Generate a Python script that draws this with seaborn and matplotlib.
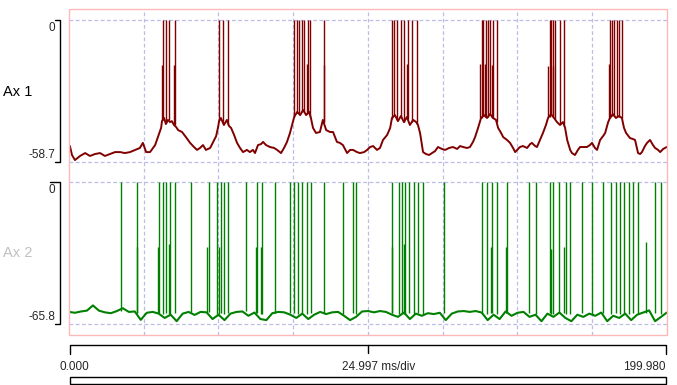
import numpy as np
import matplotlib
matplotlib.use("Agg")
import matplotlib.pyplot as plt
import matplotlib.transforms as mtransforms
from matplotlib.patches import Rectangle
import seaborn as sns

# sweep info
x_start = 0.0
x_end = 199.98
ms_per_div = 24.997

# Ax 1 (dark red), membrane trace, ms / mV
top_time = [0.3, 1.0, 2.0, 3.7, 5.4, 7.0, 8.7, 10.4, 12.0, 13.7, 15.4, 17.1, 18.7, 20.4, 22.1, 23.7,
            24.7, 25.8, 27.1, 28.1, 28.8, 29.4, 30.1, 30.8, 31.1, 31.8, 32.4, 33.1, 33.8, 34.4, 35.1,
            35.8, 36.5, 37.8, 39.1, 40.5, 41.8, 42.8, 43.8, 44.8, 45.8, 47.2, 48.2, 49.2, 49.8, 50.2,
            50.8, 51.8, 52.8, 53.5, 54.2, 55.2, 56.2, 57.2, 58.2, 59.5, 60.5, 61.5, 62.2, 63.2, 64.2,
            64.9, 65.9, 67.2, 68.6, 69.6, 70.9, 71.9, 72.9, 73.9, 74.6, 75.3, 76.3, 77.3, 78.3, 79.3,
            80.3, 80.9, 81.6, 82.6, 83.9, 84.9, 86.0, 87.3, 88.3, 89.6, 90.6, 91.6, 93.0, 94.0, 95.0,
            96.3, 97.3, 98.7, 99.7, 100.7, 101.7, 103.0, 104.0, 105.0, 106.4, 107.4, 108.0, 109.0,
            110.0, 111.0, 112.0, 113.0, 114.0, 115.1, 116.1, 116.7, 117.4, 118.4, 119.4, 120.4, 121.4,
            122.4, 123.4, 124.7, 125.8, 127.1, 128.4, 129.8, 130.8, 131.8, 133.1, 134.1, 135.1, 135.8,
            136.8, 137.8, 138.8, 139.8, 140.8, 141.8, 142.8, 143.5, 144.5, 145.2, 146.5, 147.5, 148.5,
            149.2, 150.2, 150.8, 151.8, 153.2, 154.2, 154.8, 155.9, 156.5, 157.5, 158.5, 159.5, 160.2,
            161.2, 162.2, 163.2, 164.2, 165.2, 165.9, 166.6, 167.6, 168.2, 169.2, 170.2, 170.9, 171.9,
            173.2, 174.2, 174.9, 175.9, 176.6, 177.6, 178.6, 179.3, 180.3, 180.9, 181.9, 182.9, 183.9,
            184.9, 185.6, 186.3, 187.6, 188.6, 189.3, 190.3, 191.0, 191.6, 192.6, 193.3, 194.3, 195.3,
            196.0, 197.0, 197.7, 198.7, 199.9]
top_mv = [-52.1, -55.8, -57.9, -56.2, -55.0, -56.2, -55.4, -55.0, -56.2, -55.4, -54.6, -54.6, -55.0,
          -54.6, -53.7, -52.9, -50.8, -54.6, -54.6, -52.9, -51.7, -49.6, -47.1, -44.6, -41.8, -40.5,
          -43.0, -41.3, -42.2, -41.8, -43.4, -44.2, -45.5, -46.3, -48.4, -50.8, -52.5, -53.7, -52.9,
          -51.7, -53.7, -52.9, -50.4, -48.0, -44.6, -41.8, -40.5, -43.4, -41.3, -43.8, -44.6, -47.5,
          -50.8, -52.9, -54.6, -53.7, -54.6, -53.7, -55.0, -51.7, -51.3, -50.4, -51.7, -52.5, -52.9,
          -53.7, -55.0, -52.9, -50.4, -46.7, -43.4, -40.1, -38.0, -39.3, -37.2, -39.3, -38.0, -40.5,
          -44.6, -46.7, -46.3, -41.3, -45.5, -46.3, -46.3, -50.4, -50.8, -51.7, -55.0, -53.7, -53.7,
          -54.6, -55.0, -54.6, -53.7, -52.5, -52.1, -53.7, -52.9, -49.6, -47.5, -44.6, -40.5, -39.3,
          -41.8, -39.7, -42.2, -40.1, -43.4, -41.3, -42.2, -43.4, -46.7, -54.6, -55.4, -55.8, -55.0,
          -54.2, -52.5, -53.3, -53.7, -52.9, -52.5, -53.3, -52.1, -52.5, -52.9, -52.5, -50.4, -48.4,
          -44.6, -40.5, -39.3, -40.5, -38.9, -40.5, -41.3, -44.6, -46.7, -48.4, -49.6, -50.8, -52.9,
          -54.6, -53.3, -52.5, -52.1, -52.9, -51.3, -50.8, -52.1, -52.5, -49.6, -46.7, -43.4, -40.5,
          -38.9, -40.5, -42.2, -43.4, -42.2, -44.6, -49.6, -53.7, -55.0, -55.8, -53.7, -52.5, -52.5,
          -52.5, -51.7, -50.8, -52.9, -53.7, -49.6, -48.0, -46.7, -42.2, -40.5, -38.9, -40.5, -39.7,
          -40.5, -44.6, -46.7, -48.8, -49.2, -49.6, -55.0, -55.4, -54.6, -52.1, -50.8, -49.6, -51.7,
          -52.9, -53.7, -54.6, -53.3, -52.5]

# Ax 1 action potentials (time, peak, foot)
top_spike_time = [31.3, 32.3, 33.5, 35.4, 50.3, 51.5, 53.3,
                  75.4, 76.2, 77.0, 77.8, 78.7, 80.0, 80.7, 85.4,
                  107.9, 108.8, 109.8, 110.9, 112.1, 113.5, 114.8, 116.5,
                  138.0, 138.6, 139.4, 140.0, 140.8, 141.9, 143.0,
                  160.7, 161.2, 161.8, 162.6, 164.2, 165.6,
                  180.9, 181.6, 182.4, 183.2, 184.0, 185.0,
                  31.1, 35.2, 79.7, 85.2, 113.1, 137.5, 139.1, 141.6, 160.3, 162.0, 180.7]
top_spike_peak = [0.0] * 42 + [-18.6, -18.6, -18.0, -18.6, -18.0, -18.0, -18.0, -18.6, -19.0, -19.0, -18.0]
top_spike_foot = [-41.5, -42.5, -41.5, -43.5, -41.5, -42.5, -43.5,
                  -40.0, -38.5, -39.0, -38.0, -38.0, -38.5, -40.0, -42.0,
                  -41.0, -39.5, -41.5, -40.0, -42.0, -41.0, -42.0, -43.0,
                  -40.5, -39.5, -40.0, -40.0, -39.0, -40.5, -42.0,
                  -40.0, -39.0, -39.5, -41.0, -43.0, -43.5,
                  -40.5, -39.5, -39.5, -40.0, -40.0, -40.5,
                  -41.5, -43.0, -39.0, -42.0, -41.0, -40.5, -40.0, -40.5, -40.0, -40.0, -40.5]

# Ax 2 (green), sampled every 2 ms
bot_step = 2.0
bot_mv = [-60.2, -60.6, -60.0, -59.6, -57.2, -59.6, -60.4, -60.8, -59.8, -58.5,
          -60.2, -60.0, -63.9, -60.6, -60.2, -61.0, -63.0, -61.5, -64.5, -61.0,
          -60.2, -61.6, -60.2, -60.4, -63.5, -61.5, -64.0, -61.0, -60.2, -60.0,
          -62.0, -60.5, -63.5, -64.0, -60.8, -60.2, -60.4, -61.5, -63.0, -61.0,
          -63.5, -61.5, -60.2, -61.2, -60.4, -60.2, -62.0, -64.0, -62.5, -60.0,
          -59.8, -60.4, -59.8, -60.2, -61.5, -62.5, -60.5, -63.5, -61.0, -62.0,
          -60.8, -61.2, -60.6, -64.0, -61.0, -60.0, -59.8, -60.2, -59.8, -60.5,
          -64.0, -61.5, -63.5, -60.0, -62.0, -60.6, -60.2, -62.5, -61.5, -64.5,
          -61.0, -62.5, -60.5, -63.0, -64.5, -61.5, -62.5, -61.0, -62.0, -60.5,
          -64.5, -62.0, -63.0, -61.0, -64.0, -61.5, -60.5, -59.5, -64.5, -62.5, -60.5]

bot_spike_time = [17.5, 22.8, 30.2, 31.5, 32.6, 33.8, 35.6, 40.7, 46.7, 49.4, 50.7, 51.8, 53.1,
                  59.1, 62.8, 64.4, 68.8, 73.8, 75.4, 76.7, 77.9, 79.5, 80.9, 85.4, 91.7, 94.9,
                  95.9, 108.1, 110.3, 111.4, 112.4, 113.7, 115.3, 116.6, 118.3, 125.3, 138.0,
                  139.7, 141.4, 143.0, 146.4, 153.7, 156.1, 160.9, 161.8, 163.9, 166.1, 167.6,
                  171.7, 175.0, 178.5, 181.2, 182.9, 184.3, 185.6, 187.4, 188.6, 190.2, 195.8, 197.9,
                  22.6, 29.9, 33.5, 46.3, 50.2, 62.4, 64.1, 107.9, 112.1, 141.0, 146.0, 161.3, 165.7, 193.0]
bot_spike_peak = [0.0] * 60 + [-30.0, -30.0, -28.7, -30.0, -30.0, -30.0, -30.0,
                               -30.0, -28.7, -30.3, -30.3, -31.2, -30.3, -27.7]
bot_spike_foot = [-60.0, -60.5, -60.5, -61.0, -60.5, -61.0, -60.5, -60.2, -60.4, -61.0, -60.5, -61.0, -60.5,
                  -60.0, -60.5, -61.0, -60.8, -60.5, -60.5, -61.0, -60.5, -61.0, -60.5, -60.5, -61.0, -60.5,
                  -61.0, -60.5, -61.0, -60.5, -61.0, -60.5, -61.0, -60.5, -61.0, -60.8, -60.5,
                  -61.0, -60.5, -61.0, -60.2, -60.5, -61.0, -60.5, -61.0, -60.5, -61.0, -61.0,
                  -60.5, -61.0, -60.5, -61.0, -60.5, -61.0, -60.5, -61.0, -60.5, -61.0, -60.5, -61.0,
                  -60.5, -60.5, -61.0, -60.5, -61.0, -60.5, -61.0, -60.5, -61.0, -60.5, -60.5, -61.0, -60.5, -60.5]

sns.set_style("white")
plt.rcParams["font.family"] = ["Liberation Sans", "DejaVu Sans"]

W, H = 677, 385
fig = plt.figure(figsize=(W / 100, H / 100), dpi=100)


def fx(px):
    return px / W


def fy(py):
    return 1 - py / H


def xa(px):
    # pixel column -> axes fraction of the trace panels
    return (px - 69) / 598


grid_c = "#bcbce6"
grid_ls = (0, (3, 2))

ax1 = fig.add_axes([fx(69), fy(172), fx(667) - fx(69), fy(9) - fy(172)])
ax2 = fig.add_axes([fx(69), fy(335), fx(667) - fx(69), fy(172) - fy(335)])


def draw_panel(ax, t, v, sp_t, sp_peak, sp_foot, color, lw, vmin, ylim, tick_left):
    ax.set_xlim(x_start, x_end)
    ax.set_ylim(*ylim)
    for k in range(1, 8):
        ax.axvline(k * ms_per_div, color=grid_c, lw=0.9, ls=grid_ls, zorder=0)
    ax.axhline(0, color=grid_c, lw=0.9, ls=grid_ls, zorder=0)
    ax.axhline(vmin, color=grid_c, lw=0.9, ls=grid_ls, zorder=0)
    sns.lineplot(x=t, y=v, ax=ax, color=color, lw=lw, estimator=None, sort=False)
    ax.vlines(sp_t, sp_foot, sp_peak, color=color, lw=1.0)
    ax.set_axis_off()

    trans = mtransforms.blended_transform_factory(ax.transAxes, ax.transData)
    ax.plot([xa(tick_left), xa(59.5), xa(59.5), xa(54.5)], [0, 0, vmin, vmin],
            transform=trans, color="black", lw=1.0, clip_on=False)
    ax.annotate("0", xy=(xa(55.5), 0), xycoords=trans, xytext=(0, -1.5),
                textcoords="offset points", ha="right", va="top", fontsize=8.5)
    ax.annotate(f"{vmin:.1f}", xy=(xa(55.5), vmin), xycoords=trans, xytext=(0, 1),
                textcoords="offset points", ha="right", va="bottom", fontsize=8.5)


draw_panel(ax1, top_time, top_mv, top_spike_time, top_spike_peak, top_spike_foot,
           "#800000", 1.4, -58.7, (-62.83, 4.55), 54.5)
bot_time = np.arange(len(bot_mv)) * bot_step
bot_time[-1] = 199.9
draw_panel(ax2, bot_time, bot_mv, bot_spike_time, bot_spike_peak, bot_spike_foot,
           "#008000", 1.5, -65.8, (-70.9, 4.63), 49.5)

fig.text(fx(3), fy(91.5), "Ax 1", fontsize=10.5, color="black", ha="left", va="center")
fig.text(fx(3), fy(253), "Ax 2", fontsize=10.5, color="#c0c0c0", ha="left", va="center")

# pink frame around both traces
fig.add_artist(Rectangle((fx(69), fy(335)), fx(667) - fx(69), fy(9) - fy(335),
                         transform=fig.transFigure, fill=False, ec="#ffb8b8", lw=1.0))

# time scale below
axs = fig.add_axes([fx(69), 0, fx(667) - fx(69), fy(340)])
axs.set_xlim(x_start, x_end)
axs.set_ylim(0, 45)
axs.set_axis_off()
axs.plot([0.3, 0.3, x_end - 0.5, x_end - 0.5], [31, 40, 40, 31], color="black", lw=1.0, clip_on=False)
axs.plot([100, 100], [40, 32], color="black", lw=1.0)
axs.text(1.7, 18.3, f"{x_start:.3f}", ha="center", va="center", fontsize=8.5)
axs.text(103.7, 18.3, f"{ms_per_div:.3f} ms/div", ha="center", va="center", fontsize=8.5)
axs.text(x_end - 0.5, 18.3, f"{x_end:.3f}", ha="right", va="center", fontsize=8.5)
axs.add_patch(Rectangle((0.3, 1), x_end - 0.8, 7, fill=False, ec="black", lw=1.0, clip_on=False))

fig.savefig("out.png", dpi=100)
